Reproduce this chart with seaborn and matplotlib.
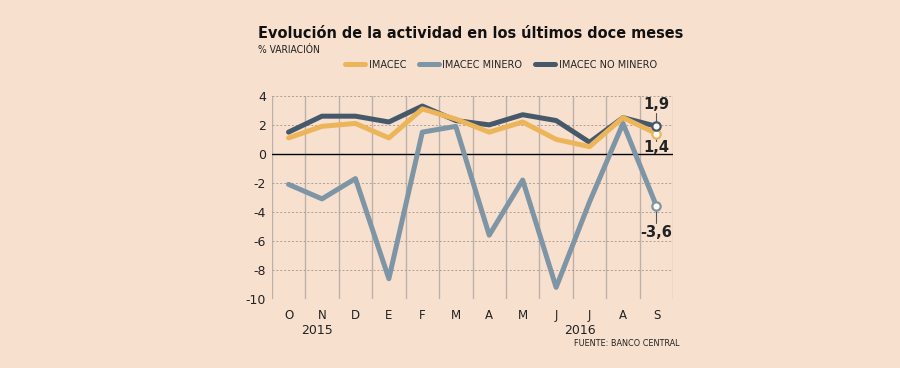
import numpy as np
import pandas as pd
import matplotlib
matplotlib.use("Agg")
import matplotlib.pyplot as plt
import seaborn as sns

# Data (% variation, Oct 2015 - Sep 2016)
months = ["O", "N", "D", "E", "F", "M", "A", "M", "J", "J", "A", "S"]
imacec = [1.1, 1.9, 2.1, 1.1, 3.1, 2.4, 1.5, 2.2, 1.0, 0.5, 2.5, 1.4]
imacec_minero = [-2.1, -3.1, -1.7, -8.6, 1.5, 1.9, -5.6, -1.8, -9.2, -3.3, 2.1, -3.6]
imacec_no_minero = [1.5, 2.6, 2.6, 2.2, 3.3, 2.3, 2.0, 2.7, 2.3, 0.8, 2.5, 1.9]
series_names = ["IMACEC", "IMACEC MINERO", "IMACEC NO MINERO"]
end_labels = ["1,4", "-3,6", "1,9"]
years = ["2015", "2016"]
yticks = [4, 2, 0, -2, -4, -6, -8, -10]

BG = "#F8E0CF"
colors = {"IMACEC": "#EDB55A", "IMACEC MINERO": "#7E95A6",
          "IMACEC NO MINERO": "#46596B"}

sns.set_theme(style="white")
plt.rcParams["font.family"] = ["DejaVu Sans"]

df = pd.DataFrame({
    "x": list(range(len(months))) * 3,
    "valor": imacec + imacec_minero + imacec_no_minero,
    "serie": np.repeat(series_names, len(months)),
})

fig = plt.figure(figsize=(9, 3.68), dpi=100)
fig.patch.set_facecolor(BG)
ax = fig.add_axes([0.302, 0.1875, 0.446, 0.552])
ax.set_facecolor(BG)

# grid first
for v in np.arange(-0.5, len(months), 1.0):
    ax.axvline(v, color="#BBB1A9", lw=1.0, zorder=0)
for t in yticks:
    if t != 0:
        ax.axhline(t, color="#A8A098", lw=0.7, ls=(0, (2, 2)), zorder=0)
ax.axhline(0, color="black", lw=1.0, zorder=1)

draw_order = ["IMACEC MINERO", "IMACEC NO MINERO", "IMACEC"]
for name in draw_order:
    sub = df[df["serie"] == name]
    sns.lineplot(data=sub, x="x", y="valor", color=colors[name], lw=3.6,
                 ax=ax, legend=False, zorder=3)

# end markers and labels
last = len(months) - 1
ends = {"IMACEC": (imacec[-1], end_labels[0]),
        "IMACEC MINERO": (imacec_minero[-1], end_labels[1]),
        "IMACEC NO MINERO": (imacec_no_minero[-1], end_labels[2])}
for name, (val, lab) in ends.items():
    ax.plot(last, val, "o", ms=6, mfc="white", mec=colors[name], mew=1.6, zorder=5)

v, lab = ends["IMACEC NO MINERO"]
ax.plot([last, last], [v + 0.3, v + 0.95], color="#555555", lw=0.8, zorder=2)
ax.text(last, v + 1.5, lab, ha="center", va="center", fontsize=10.5,
        fontweight="bold", color="#222222")
v, lab = ends["IMACEC"]
ax.plot([last, last], [v - 0.3, v - 0.5], color="#555555", lw=0.8, zorder=2)
ax.text(last, v - 0.95, lab, ha="center", va="center", fontsize=10.5,
        fontweight="bold", color="#222222")
v, lab = ends["IMACEC MINERO"]
ax.plot([last, last], [v - 0.3, v - 1.15], color="#555555", lw=0.8, zorder=2)
ax.text(last, v - 1.8, lab, ha="center", va="center", fontsize=10.5,
        fontweight="bold", color="#222222")

ax.set_xlim(-0.5, len(months) - 0.5)
ax.set_ylim(-10, 4)
ax.set_xticks(range(len(months)))
ax.set_xticklabels(months, fontsize=8.5, color="#222222")
ax.set_yticks(yticks)
ax.set_yticklabels([str(t) for t in yticks], fontsize=9, color="#222222")
ax.tick_params(axis="both", length=0, pad=4)
ax.tick_params(axis="x", pad=7)
ax.set_xlabel("")
ax.set_ylabel("")
for s in ax.spines.values():
    s.set_visible(False)

# year labels
ax.text(0.85, -12.2, years[0], ha="center", va="center", fontsize=9, color="#222222")
ax.text(8.7, -12.2, years[1], ha="center", va="center", fontsize=9, color="#222222")

# title, subtitle, legend
fig.text(258 / 900, 1 - 33 / 368, "Evolución de la actividad en los últimos doce meses",
         ha="left", va="center", fontsize=11.6, fontweight="bold",
         fontstretch="condensed", color="#111111")
fig.text(258 / 900, 1 - 50 / 368, "% VARIACIÓN", ha="left", va="center",
         fontsize=7.4, fontstretch="condensed", color="#222222")
handles = [plt.Line2D([], [], color=colors[n], lw=3.6) for n in series_names]
fig.legend(handles, series_names, loc="center", bbox_to_anchor=(501 / 900, 1 - 65 / 368),
           ncol=3, frameon=False, handlelength=1.8, handletextpad=0.35,
           columnspacing=1.2, prop={"size": 7.8, "stretch": "condensed"})

fig.text(680 / 900, 1 - 343 / 368, "FUENTE: BANCO CENTRAL", ha="right", va="center",
         fontsize=6.5, fontstretch="condensed", color="#222222")

fig.savefig("out.png", dpi=100, facecolor=BG)
